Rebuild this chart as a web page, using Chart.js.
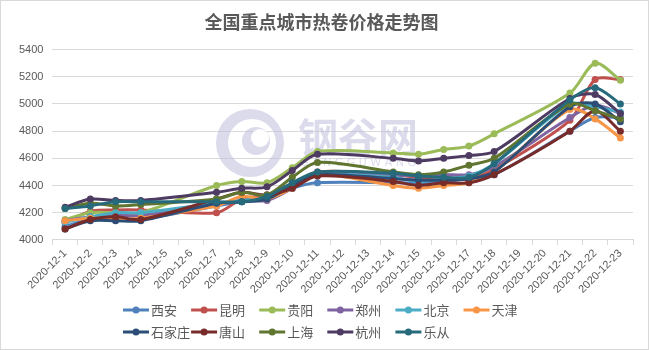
<!DOCTYPE html>
<html>
<head>
<meta charset="utf-8">
<script src="https://cdn.jsdelivr.net/npm/chart.js@4/dist/chart.umd.min.js"></script>
<style>
  html, body { margin: 0; padding: 0; background: #fff; }
  #wrap { width: 649px; height: 350px; position: relative; }
</style>
</head>
<body>
<div id="wrap"><canvas id="c" width="649" height="350"></canvas></div>
<script>
// Trading days in December 2020; weekends are left empty (null) and spanned.
const dates = [
  '2020-12-1','2020-12-2','2020-12-3','2020-12-4','2020-12-5','2020-12-6','2020-12-7',
  '2020-12-8','2020-12-9','2020-12-10','2020-12-11','2020-12-12','2020-12-13','2020-12-14',
  '2020-12-15','2020-12-16','2020-12-17','2020-12-18','2020-12-19','2020-12-20','2020-12-21',
  '2020-12-22','2020-12-23'
];

const cities = ['西安','昆明','贵阳','郑州','北京','天津','石家庄','唐山','上海','杭州','乐从'];

// Hot-rolled coil prices (yuan/ton)
const xian        = [4100,4150,4150,4150,null,null,4250,4280,4300,4380,4420,null,null,4420,4420,4430,4450,4480,null,null,4800,4900,4900];
const kunming     = [4130,4210,4220,4220,null,null,4200,4300,4330,4400,4500,null,null,4480,4460,4460,4450,4520,null,null,4880,5180,5180];
const guiyang     = [4150,4200,4200,4200,null,null,4400,4430,4420,4530,4650,null,null,4640,4630,4665,4690,4780,null,null,5080,5300,5175];
const zhengzhou   = [4140,4170,4180,4180,null,null,4260,4290,4290,4380,4490,null,null,4480,4470,4480,4480,4540,null,null,4900,4990,4930];
const beijing     = [4130,4170,4200,4200,null,null,4270,4290,4320,4400,4480,null,null,4460,4430,4450,4470,4560,null,null,5000,4980,4940];
const tianjin     = [4140,4160,4150,4160,null,null,4250,4320,4300,4380,4480,null,null,4400,4380,4400,4420,4500,null,null,4960,4890,4750];
const shijiazhuang= [4080,4140,4140,4140,null,null,4270,4280,4300,4400,4480,null,null,4450,4440,4440,4450,4500,null,null,4980,5000,4870];
const tangshan    = [4080,4150,4170,4150,null,null,4300,4350,4330,4380,4470,null,null,4430,4400,4420,4420,4480,null,null,4800,4950,4800];
const shanghai    = [4230,4270,4250,4260,null,null,4300,4350,4330,4460,4570,null,null,4500,4480,4500,4550,4600,null,null,5000,4950,4890];
const hangzhou    = [4240,4300,4290,4290,null,null,4350,4380,4390,4510,4630,null,null,4600,4580,4600,4620,4650,null,null,5040,5070,4930];
const lecong      = [4230,4250,4280,4280,null,null,4280,4280,4320,4420,4500,null,null,4490,4470,4460,4460,4560,null,null,5030,5120,5000];

const seriesValues = [xian,kunming,guiyang,zhengzhou,beijing,tianjin,shijiazhuang,tangshan,shanghai,hangzhou,lecong];
const seriesColors = ['#4F81BD','#C0504D','#9BBB59','#8064A2','#4BACC6','#F79646',
                      '#2C4D75','#772C2A','#5F7530','#4D3B62','#276A7C'];

const yTicks = [4000,4200,4400,4600,4800,5000,5200,5400];

const TEXT = '#595959';
const GRID = '#d9d9d9';

// Faint site mark behind the lines
const watermark = {
  id: 'watermark',
  beforeDatasetsDraw(chart) {
    const ctx = chart.ctx;
    ctx.save();
    const fill = 'rgba(190,190,220,0.55)';
    const cx = 250, cy = 143;
    ctx.fillStyle = fill;
    ctx.beginPath();
    ctx.arc(cx, cy, 34, 0, Math.PI * 2);
    ctx.arc(cx + 2, cy, 24, 0, Math.PI * 2, true);
    ctx.fill('evenodd');
    ctx.beginPath();
    ctx.arc(cx + 6, cy - 2, 14, 0, Math.PI * 2);
    ctx.fill();
    ctx.fillStyle = '#fff';
    ctx.beginPath();
    ctx.arc(cx + 10, cy - 5, 9, 0, Math.PI * 2);
    ctx.fill();
    ctx.fillStyle = fill;
    ctx.font = 'bold 40px "Noto Sans CJK SC"';
    ctx.textBaseline = 'alphabetic';
    ctx.textAlign = 'left';
    ctx.fillText('钢谷网', 298, 152);
    ctx.font = '11px "DejaVu Sans"';
    ctx.fillText('G A N G G U W A N G', 300, 166);
    ctx.restore();
  }
};

// Two-row legend on a fixed column grid, plus the outer frame
const gridLegend = {
  id: 'gridLegend',
  afterDraw(chart) {
    const ctx = chart.ctx;
    ctx.save();
    ctx.font = '13px "Noto Sans CJK SC"';
    ctx.textBaseline = 'middle';
    ctx.textAlign = 'left';
    chart.data.datasets.forEach((ds, i) => {
      const row = i < 6 ? 0 : 1;
      const col = row === 0 ? i : i - 6;
      const x0 = 123 + col * 68.1;
      const y = row === 0 ? 310 : 332;
      ctx.strokeStyle = ds.borderColor;
      ctx.lineWidth = 3;
      ctx.beginPath();
      ctx.moveTo(x0, y);
      ctx.lineTo(x0 + 26, y);
      ctx.stroke();
      ctx.fillStyle = ds.borderColor;
      ctx.beginPath();
      ctx.arc(x0 + 13, y, 3.5, 0, Math.PI * 2);
      ctx.fill();
      ctx.fillStyle = TEXT;
      ctx.fillText(ds.label, x0 + 28, y);
    });
    ctx.strokeStyle = GRID;
    ctx.lineWidth = 1;
    ctx.strokeRect(0.5, 0.5, chart.width - 1, chart.height - 1);
    ctx.restore();
  }
};

const datasets = cities.map((name, i) => ({
  label: name,
  data: seriesValues[i],
  borderColor: seriesColors[i],
  backgroundColor: seriesColors[i],
  borderWidth: 3,
  pointRadius: 3.5,
  pointBorderWidth: 0,
  pointHoverRadius: 3.5,
  tension: 0.3,
  spanGaps: true,
  order: -i
}));

new Chart(document.getElementById('c'), {
  type: 'line',
  data: { labels: dates, datasets },
  plugins: [watermark, gridLegend],
  options: {
    responsive: false,
    animation: false,
    events: [],
    layout: { padding: { left: 10, right: 16, top: 0, bottom: 52 } },
    plugins: {
      legend: { display: false },
      tooltip: { enabled: false },
      title: {
        display: true,
        text: '全国重点城市热卷价格走势图',
        color: TEXT,
        font: { family: '"Noto Sans CJK SC"', size: 18, weight: 'bold' },
        padding: { top: 11, bottom: 17 }
      }
    },
    scales: {
      x: {
        offset: true,
        grid: { display: true, drawOnChartArea: false, drawTicks: true, tickLength: 5, color: GRID, offset: true },
        border: { display: true, color: GRID },
        ticks: {
          color: TEXT,
          font: { family: '"Liberation Sans", Arial', size: 11 },
          maxRotation: 45, minRotation: 45,
          autoSkip: false,
          padding: 2
        }
      },
      y: {
        min: 4000, max: 5400,
        afterBuildTicks(scale) { scale.ticks = yTicks.map(v => ({ value: v })); },
        grid: { color: GRID, drawTicks: false },
        border: { display: false },
        ticks: {
          color: TEXT,
          font: { family: '"Liberation Sans", Arial', size: 11 },
          padding: 9,
          callback: v => String(v)
        }
      }
    }
  }
});
</script>
</body>
</html>
